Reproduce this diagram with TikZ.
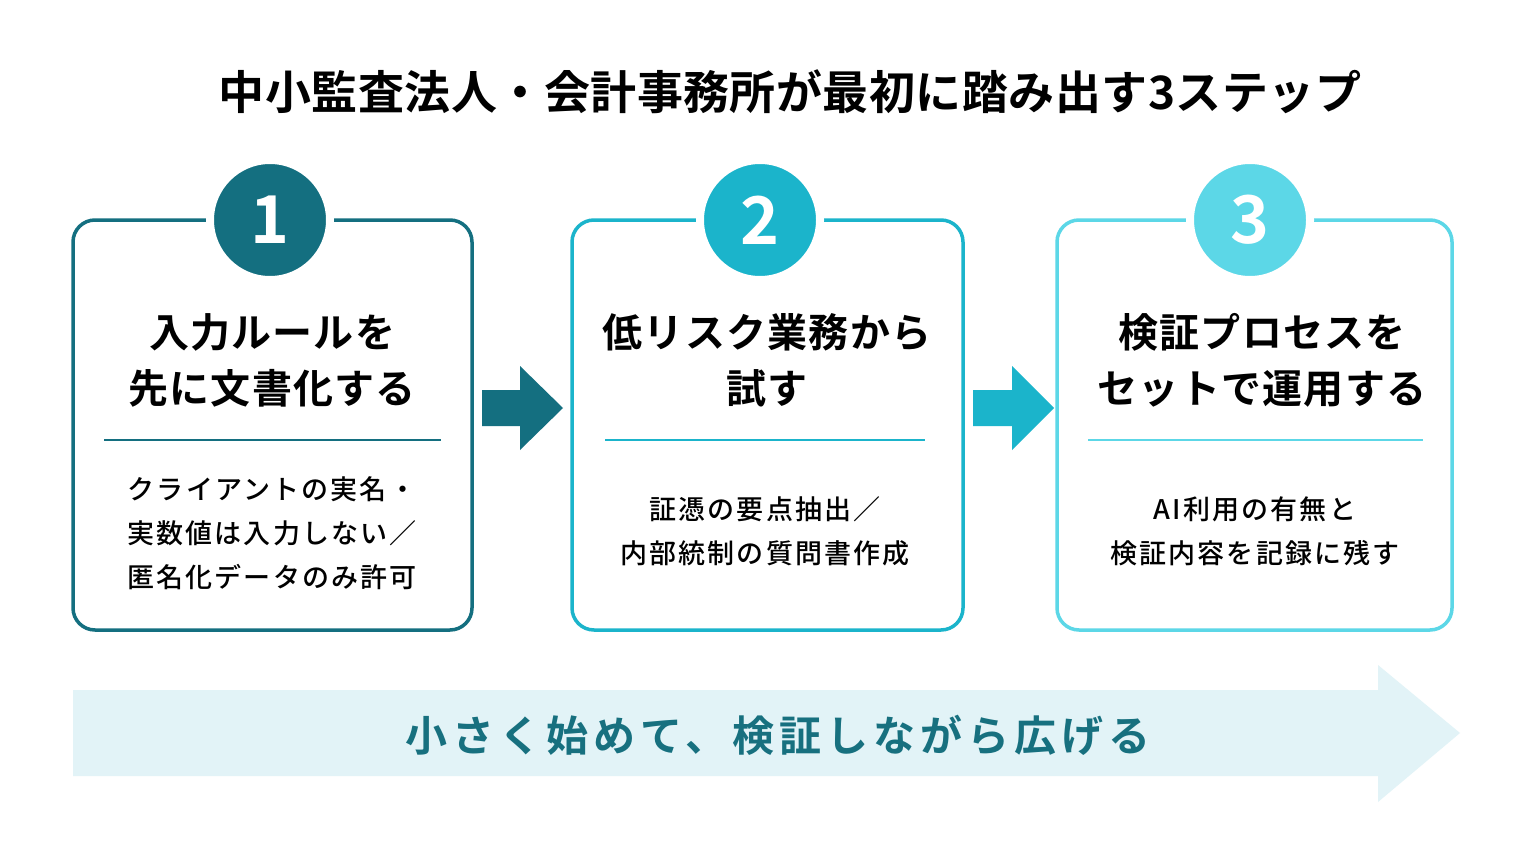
\documentclass[tikz,border=0pt]{standalone}
\usepackage{fontspec}
\setmainfont{Noto Sans CJK JP}[BoldFont={Noto Sans CJK JP Bold}]
\newfontfamily\medfont{Noto Sans CJK JP Medium}[LetterSpace=8]
\usetikzlibrary{shapes.arrows}
\definecolor{cA}{HTML}{146F80}
\definecolor{cB}{HTML}{1BB4CB}
\definecolor{cC}{HTML}{5CD7E7}
\definecolor{band}{HTML}{E2F3F7}
\definecolor{bandtxt}{HTML}{17707F}
\begin{document}
\begin{tikzpicture}[x=1pt,y=-1pt,
 box/.style={draw=#1,line width=3.5pt,rounded corners=22pt,fill=white},
 num/.style={circle,minimum size=120pt,text=white,font=\bfseries\fontsize{66}{66}\selectfont,draw=white,line width=8pt},
 ttl/.style={align=center,font=\bfseries\fontsize{40}{56}\selectfont\addfontfeature{LetterSpace=3}},
 bod/.style={align=center,font=\medfont\fontsize{27}{44}\selectfont}]
\fill[white] (0,0) rectangle (1536,864);
\useasboundingbox (0,0) rectangle (1536,864);
\node[font=\bfseries\fontsize{46}{46}\selectfont\addfontfeature{LetterSpace=1}] (title) at (790,92) {中小監査法人・会計事務所が最初に踏み出す3ステップ};
% boxes
\draw[box=cA] (73,220) rectangle (472,630);
\draw[box=cB] (572,220) rectangle (963,630);
\draw[box=cC] (1057,220) rectangle (1452,630);
\node[num,fill=cA] (n1) at (270,220) {1};
\node[num,fill=cB] (n2) at (760,220) {2};
\node[num,fill=cC] (n3) at (1250,220) {3};
\node[ttl] (t1) at (272,360) {入力ルールを\\先に文書化する};
\node[ttl] (t2) at (767,360) {低リスク業務から\\試す};
\node[ttl] (t3) at (1262,360) {検証プロセスを\\セットで運用する};
\draw[cA,line width=2pt] (104,440) -- (441,440);
\draw[cB,line width=2pt] (605,440) -- (925,440);
\draw[cC,line width=2pt] (1088,440) -- (1423,440);
\node[bod] (b1) at (272,533) {クライアントの実名・\\実数値は入力しない／\\匿名化データのみ許可};
\node[bod] (b2) at (765,531) {証憑の要点抽出／\\内部統制の質問書作成};
\node[bod] (b3) at (1255,531) {AI利用の有無と\\検証内容を記録に残す};
% step arrows
\fill[cA] (482,390) -- (520,390) -- (520,366) -- (563,408) -- (520,450) -- (520,426) -- (482,426) -- cycle;
\fill[cB] (973,390) -- (1012,390) -- (1012,366) -- (1054,408) -- (1012,450) -- (1012,426) -- (973,426) -- cycle;
% band arrow
\fill[band] (73,690) -- (1378,690) -- (1378,665) -- (1460,733) -- (1378,802) -- (1378,776) -- (73,776) -- cycle;
\node[text=bandtxt,font=\bfseries\fontsize{42}{42}\selectfont\addfontfeature{LetterSpace=12}] (bt) at (778,735) {小さく始めて、検証しながら広げる};
\end{tikzpicture}
\end{document}
